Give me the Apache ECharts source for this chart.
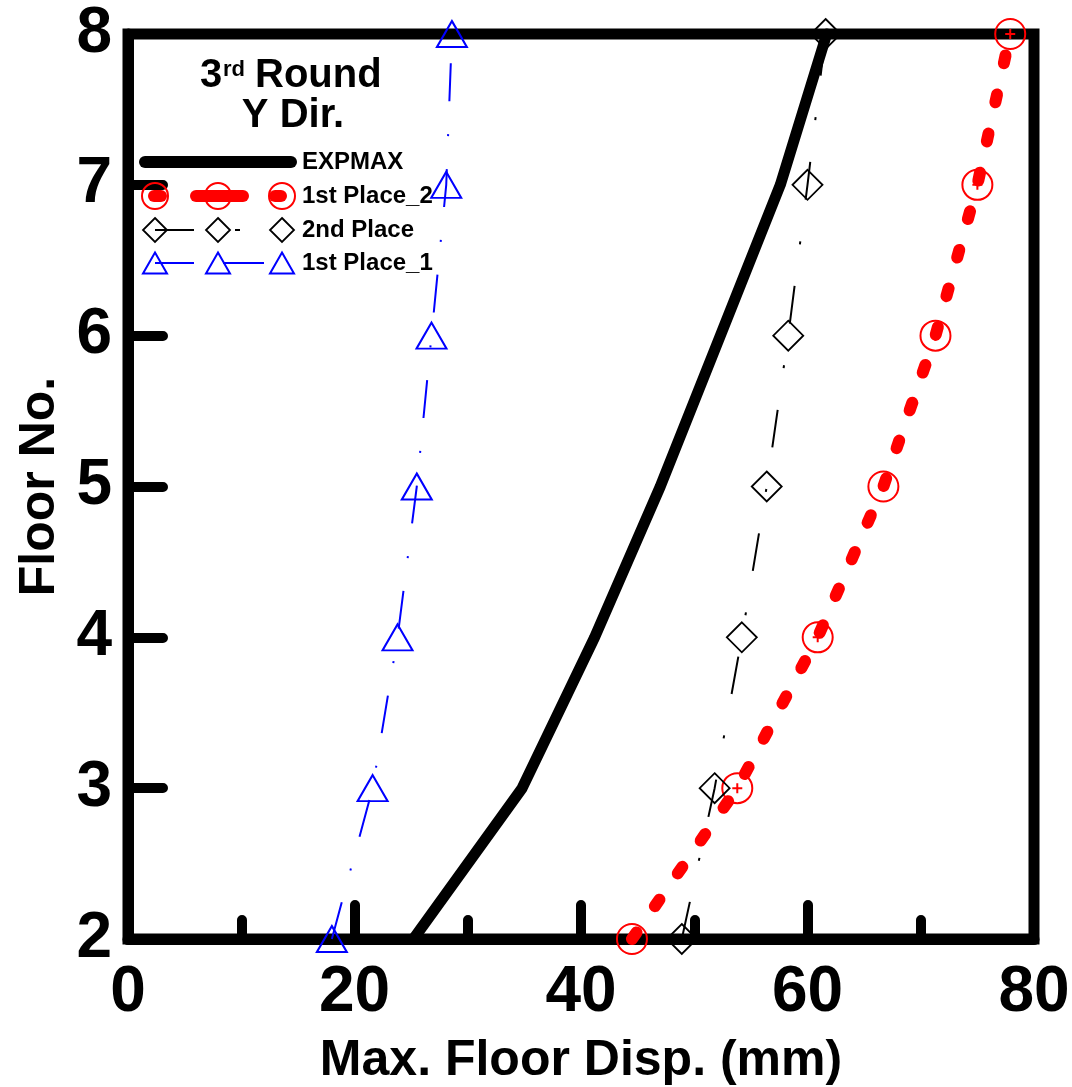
<!DOCTYPE html>
<html>
<head>
<meta charset="utf-8">
<script src="https://cdn.jsdelivr.net/npm/echarts@6/dist/echarts.min.js"></script>
<style>html,body{margin:0;padding:0;background:#fff;}#c{width:1072px;height:1087px;}</style>
</head>
<body>
<div id="c"></div>
<script>
// ---- data ----
const floors = [2, 3, 4, 5, 6, 7, 8];
const expmax = [25.2, 34.8, 41.2, 47.0, 52.3, 57.6, 61.7];
const firstPlace2 = [44.5, 53.8, 60.9, 66.7, 71.3, 75.0, 77.9];
const secondPlace = [48.9, 51.8, 54.2, 56.4, 58.3, 60.0, 61.6];
const firstPlace1 = [18.0, 21.6, 23.8, 25.5, 26.8, 28.1, 28.6];
const seriesNames = ['EXPMAX', '1st Place_2', '2nd Place', '1st Place_1'];
const xTicks = [0, 20, 40, 60, 80];
const yTicks = [2, 3, 4, 5, 6, 7, 8];
const xTitle = 'Max. Floor Disp. (mm)';
const yTitle = 'Floor No.';

const FONT = '"Liberation Sans", Arial, sans-serif';
const pairs = (xs) => xs.map((x, i) => [x, floors[i]]);
const circlePlus = 'path://M0,-15 A15,15 0 1,1 0,15 A15,15 0 1,1 0,-15 Z M-5,0 L5,0 M0,-5 L0,5';

const chart = echarts.init(document.getElementById('c'), null, {renderer: 'canvas'});

// legend graphics
const legendG = [];
const rows = [162, 196, 230, 263];
const sx = [155, 218, 282];
// EXPMAX
legendG.push({type: 'line', shape: {x1: 145, y1: rows[0], x2: 291, y2: rows[0]}, style: {stroke: '#000', lineWidth: 12, lineCap: 'round'}, z: 100});
// 1st Place_2
[[154, 161], [196, 243], [275, 281]].forEach(s => legendG.push({type: 'line', shape: {x1: s[0], y1: rows[1], x2: s[1], y2: rows[1]}, style: {stroke: '#ff0000', lineWidth: 12, lineCap: 'round'}, z: 100}));
sx.forEach(x => legendG.push({type: 'circle', shape: {cx: x, cy: rows[1], r: 13}, style: {fill: null, stroke: '#ff0000', lineWidth: 2}, z: 101}));
legendG.push({type: 'line', shape: {x1: 213, y1: rows[1], x2: 223, y2: rows[1]}, style: {stroke: '#ff0000', lineWidth: 1.5}, z: 101});
legendG.push({type: 'line', shape: {x1: 218, y1: rows[1] - 5, x2: 218, y2: rows[1] + 5}, style: {stroke: '#ff0000', lineWidth: 1.5}, z: 101});
// 2nd Place
legendG.push({type: 'line', shape: {x1: 155, y1: rows[2], x2: 194, y2: rows[2]}, style: {stroke: '#000', lineWidth: 2}, z: 100});
legendG.push({type: 'line', shape: {x1: 235, y1: rows[2], x2: 240, y2: rows[2]}, style: {stroke: '#000', lineWidth: 2}, z: 100});
sx.forEach(x => legendG.push({type: 'polygon', shape: {points: [[x, rows[2] - 12], [x + 12, rows[2]], [x, rows[2] + 12], [x - 12, rows[2]]]}, style: {fill: null, stroke: '#000', lineWidth: 1.8}, z: 101}));
// 1st Place_1
legendG.push({type: 'line', shape: {x1: 155, y1: rows[3], x2: 194, y2: rows[3]}, style: {stroke: '#0000ff', lineWidth: 2}, z: 100});
legendG.push({type: 'line', shape: {x1: 223, y1: rows[3], x2: 264, y2: rows[3]}, style: {stroke: '#0000ff', lineWidth: 2}, z: 100});
sx.forEach(x => legendG.push({type: 'polygon', shape: {points: [[x, rows[3] - 10.5], [x + 12, rows[3] + 10.5], [x - 12, rows[3] + 10.5]]}, style: {fill: null, stroke: '#0000ff', lineWidth: 2}, z: 101}));
// legend texts
seriesNames.forEach((n, i) => legendG.push({type: 'text', x: 302, y: rows[i], style: {text: n, font: 'bold 24px ' + FONT, fill: '#000', textVerticalAlign: 'middle'}, z: 102}));
// title
legendG.push({type: 'text', x: 200, y: 76, style: {text: '3', font: 'bold 40px ' + FONT, fill: '#000', textVerticalAlign: 'middle'}, z: 102});
legendG.push({type: 'text', x: 223, y: 70, style: {text: 'rd', font: 'bold 22px ' + FONT, fill: '#000', textVerticalAlign: 'middle'}, z: 102});
legendG.push({type: 'text', x: 255, y: 76, style: {text: 'Round', font: 'bold 40px ' + FONT, fill: '#000', textVerticalAlign: 'middle'}, z: 102});
legendG.push({type: 'text', x: 293, y: 116, style: {text: 'Y Dir.', font: 'bold 40px ' + FONT, fill: '#000', textAlign: 'center', textVerticalAlign: 'middle'}, z: 102});

const option = {
  animation: false,
  backgroundColor: '#fff',
  grid: {left: 128, right: 38, top: 34, bottom: 148, containLabel: false, outerBoundsMode: 'none',
    show: true, borderColor: '#000', borderWidth: 11, backgroundColor: 'transparent'},
  xAxis: {
    type: 'value', min: xTicks[0], max: xTicks[xTicks.length - 1], interval: 20,
    name: xTitle, nameLocation: 'middle', nameGap: 97,
    nameTextStyle: {fontFamily: FONT, fontWeight: 'bold', fontSize: 50, color: '#000'},
    axisLine: {show: true, lineStyle: {color: '#000', width: 11}},
    axisTick: {show: true, inside: true, length: 34, lineStyle: {color: '#000', width: 10, cap: 'round'}},
    minorTick: {show: true, splitNumber: 2, length: 19, lineStyle: {color: '#000', width: 10, cap: 'round'}},
    axisLabel: {show: true, margin: 22, fontFamily: FONT, fontWeight: 'bold', fontSize: 64, color: '#000',
      formatter: v => xTicks.includes(v) ? String(v) : ''},
    splitLine: {show: false}
  },
  yAxis: {
    type: 'value', min: yTicks[0], max: yTicks[yTicks.length - 1], interval: 1,
    name: yTitle, nameLocation: 'middle', nameGap: 60, nameRotate: 90,
    nameTextStyle: {fontFamily: FONT, fontWeight: 'bold', fontSize: 50, color: '#000'},
    axisLine: {show: true, lineStyle: {color: '#000', width: 11}},
    axisTick: {show: true, inside: true, length: 35, lineStyle: {color: '#000', width: 10, cap: 'round'}},
    axisLabel: {show: true, margin: 16, fontFamily: FONT, fontWeight: 'bold', fontSize: 64, color: '#000',
      formatter: v => yTicks.includes(v) ? String(v) : ''},
    splitLine: {show: false}
  },
  series: [
    {name: seriesNames[0], type: 'line', data: pairs(expmax), showSymbol: false, symbol: 'none', clip: false,
      lineStyle: {color: '#000', width: 11, cap: 'round', join: 'round'}, z: 3},
    {name: seriesNames[1], type: 'line', data: pairs(firstPlace2), symbol: circlePlus, symbolSize: 30, clip: false,
      itemStyle: {color: 'rgba(0,0,0,0)', borderColor: '#ff0000', borderWidth: 2},
      lineStyle: {color: '#ff0000', width: 12, type: [8, 32], cap: 'round'}, z: 4},
    {name: seriesNames[2], type: 'line', data: pairs(secondPlace), symbol: 'diamond', symbolSize: [30, 30], clip: false,
      itemStyle: {color: 'rgba(0,0,0,0)', borderColor: '#000', borderWidth: 1.8},
      lineStyle: {color: '#000', width: 2, type: [38, 42, 3, 42]}, z: 4},
    {name: seriesNames[3], type: 'line', data: pairs(firstPlace1), symbol: 'triangle', symbolSize: [30, 26], clip: false,
      itemStyle: {color: 'rgba(0,0,0,0)', borderColor: '#0000ff', borderWidth: 2},
      lineStyle: {color: '#0000ff', width: 2, type: [38, 33, 2, 33]}, z: 4}
  ],
  graphic: legendG
};
chart.setOption(option);
</script>
</body>
</html>
